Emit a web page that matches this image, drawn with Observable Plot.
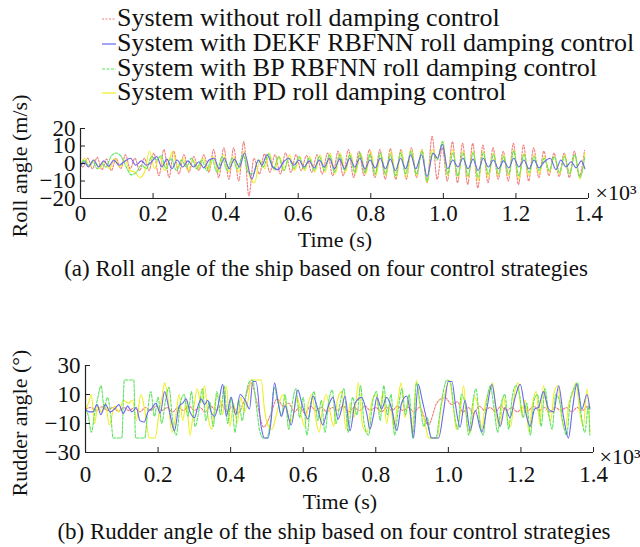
<!DOCTYPE html>
<html><head><meta charset="utf-8">
<script src="https://cdn.jsdelivr.net/npm/d3@7"></script>
<script src="https://cdn.jsdelivr.net/npm/@observablehq/plot@0.6"></script>
<style>
body{margin:0;background:#fff;}
#root{position:relative;width:640px;height:547px;overflow:hidden;font-family:"Liberation Serif","Times New Roman",serif;color:#111;}
.abs{position:absolute;white-space:nowrap;line-height:1;}
.c{transform:translate(-50%,-50%);}
.vert{writing-mode:vertical-rl;transform:translate(-50%,-50%) rotate(180deg);}
</style></head><body><div id="root"></div><script>
// ---- legend / series ----
const SERIES = ["System without roll damping control","System with DEKF RBFNN roll damping control","System with BP RBFNN roll damping control","System with PD roll damping control"];
const COLORS = ["#f27c7c","#6767f0","#5fe35f","#eeee1e"];
const DASHES = ["2,1.5", null, "3,1.5", null];
const xTicks = [0,200,400,600,800,1000,1200,1400];
const yTicksA = [-20,-10,0,10,20];
const yTicksB = [-30,-10,10,30];

// ---- (a) Roll angle: [time s, value] ----
const rollNone = [[0,0],[7,-2],[20,3],[33,-3],[46,3.5],[59,-3.5],[72,2.5],[85,-4],[98,3],[111,-3],[124,5],[137,-3],[150,3],[163,-4],[176,3],[189,-4],[202,6],[216,-7],[230,8],[244,-8],[257,7],[271,-6],[285,5],[299,-5],[312,4],[326,-4],[340,5],[354,-5],[367,8],[381,-8],[395,9],[409,-9],[422,9],[436,-10],[450,12.5],[464,-18.5],[478,3],[493,-6],[507,5.5],[522,-5],[536,5],[551,-6],[565,6],[580,-5],[594,5],[608,-4],[623,4.5],[637,-5],[652,5],[666,-6],[681,6],[695,-7],[710,7],[724,-7],[738,8],[753,-8],[767,7],[782,-7],[796,8],[811,-8],[825,8],[840,-9],[854,8.5],[869,-9],[883,8],[898,-9],[912,9],[926,-8],[941,8],[955,-11],[969,15.5],[983,-9],[997,9],[1011,-10],[1025,12.5],[1039,-11],[1053,11.5],[1067,-12],[1081,11.5],[1095,-14],[1109,10.5],[1123,-11],[1137,9],[1151,-9],[1165,7],[1179,-10],[1193,11.5],[1207,-12],[1221,10.5],[1235,-10],[1249,9],[1263,-8],[1277,7],[1291,-7],[1305,6],[1319,-7.5],[1333,6],[1347,-8],[1361,7],[1375,-7],[1389,7.5]];
const rollDEKF = [[0,-2],[10,1],[22,-2],[36,2],[50,-2],[64,1.5],[78,-1.5],[92,2],[106,-1],[120,1],[138,3],[152,-1],[168,1.5],[182,-1],[196,1],[210,4],[224,-2],[238,2.5],[252,-3],[266,2],[282,-2],[296,1.5],[312,-2],[326,1],[340,-2.5],[354,2],[368,3],[382,-3],[396,3],[410,-3],[424,2.5],[438,-2],[452,6],[472,-9],[490,2],[500,-1],[514,5],[530,-2],[544,-3.5],[560,1],[574,3],[588,-1],[602,2],[616,-2],[630,1.5],[644,-2.5],[658,2],[672,-2],[686,3],[700,-3],[714,2.5],[728,-3],[742,3],[756,-2],[770,3],[784,-3],[798,2],[812,-2.5],[826,3],[840,-3],[854,2.5],[868,-4],[882,3],[896,-3],[910,5],[924,-3],[940,5],[955,-7.5],[972,6],[984,3],[997,11],[1012,-3],[1026,2],[1040,-2],[1054,3],[1068,-3],[1082,2.5],[1096,-4],[1110,3],[1124,-2],[1138,2],[1152,-3],[1166,1.5],[1180,-2.5],[1194,3],[1208,-2],[1222,2],[1236,-3],[1250,2],[1264,-2.5],[1278,1],[1295,3],[1310,-3.5],[1324,2],[1338,-2],[1352,1],[1366,-2.5],[1380,1.5],[1390,-3]];
const rollBP = [[0,-2],[10,2],[22,-1],[34,1],[46,-3],[58,0],[70,-2],[84,4],[98,6],[112,4],[126,-2],[140,-6.5],[154,-5],[168,-1],[182,-3],[196,4],[210,2],[222,4.5],[236,-3],[250,3],[264,-4],[278,2],[292,-2],[306,3],[320,-3],[334,2],[348,-4],[362,3],[376,-5],[390,4],[404,-4],[418,3],[432,-3],[448,5],[462,-5],[476,-6],[490,2],[504,-2],[518,5.5],[532,-3],[546,4],[560,-4],[574,3],[588,-3],[602,4],[616,-3],[630,3],[644,-4],[658,4],[672,-4],[686,5],[700,-5],[714,5],[728,-4],[742,5],[756,-5],[770,6],[784,-5],[798,5],[812,-6],[826,6],[840,-6],[854,5],[868,-7],[882,6],[896,-6],[910,7],[926,-6],[941,7],[955,-10],[970,6],[983,2],[998,12.5],[1012,-6],[1026,6],[1040,-7],[1054,6],[1068,-7],[1082,6],[1096,-8],[1110,6],[1124,-6],[1138,5],[1152,-6],[1166,4],[1180,-6],[1194,7],[1208,-7],[1222,5],[1236,-5],[1250,4],[1264,-4],[1278,3],[1292,-4],[1306,4],[1320,-5],[1334,4],[1348,-6],[1362,5],[1376,-8],[1390,4]];
const rollPD = [[0,-1],[12,3],[24,-2],[38,2],[52,-3],[66,1],[80,-3],[94,3],[108,-2],[122,2],[136,-4],[150,-5],[164,-8],[178,-4],[190,7],[204,-3],[218,4],[232,-4],[246,3],[254,7],[268,-3],[282,3],[296,-4],[310,2],[324,-3],[338,3],[352,-4],[366,4],[380,-5],[394,5],[408,-5],[422,4],[436,-5],[450,7],[466,-7],[480,-11],[494,2],[508,-3],[520,6],[534,-4],[548,4],[562,-4],[576,5],[590,-4],[604,4],[618,-4],[632,4],[646,-5],[660,5],[674,-5],[688,6],[702,-6],[716,6],[730,-5],[744,6],[758,-6],[772,6],[786,-6],[800,7],[814,-7],[828,6],[842,-7],[856,7],[870,-8],[884,7],[898,-8],[912,8],[926,-7],[941,8],[955,-11],[969,8],[983,3],[998,12],[1012,-7],[1026,8],[1040,-8],[1054,7],[1068,-8],[1082,7],[1096,-10],[1110,7],[1124,-8],[1138,6],[1152,-7],[1166,5],[1180,-7],[1194,8],[1208,-9],[1222,6],[1236,-7],[1250,5],[1264,-6],[1278,4],[1292,-5],[1306,4],[1320,-6],[1334,5],[1348,-6],[1362,5],[1376,-9],[1390,6]];

// ---- (b) Rudder angle: [time s, value] ----
const rudNone = [[0,0],[15,1],[30,-1],[45,1.5],[60,-1],[75,1],[90,-1.5],[105,1],[120,-1],[135,1],[150,-2],[165,1],[180,-1],[195,2],[210,-1],[225,1],[240,-2],[255,1],[270,-1],[285,2],[300,-1],[315,1],[330,-2],[345,2],[360,-1],[375,3],[390,-2],[405,2],[420,-3],[435,4],[457,18],[472,5],[491,-12.5],[510,-4],[528,7],[545,2],[560,4],[575,-2],[590,1],[605,-3],[620,2],[635,-1],[650,1],[665,-2],[680,1],[695,-1],[710,2],[725,-2],[740,1],[755,-1],[770,2],[785,-1],[800,1],[815,-2],[830,1],[845,-1],[860,2],[875,-1],[890,1],[905,-2],[920,1],[945,-11],[968,4],[990,8],[1010,3],[1025,5],[1040,-2],[1055,1],[1070,-3],[1085,2],[1100,-1],[1115,1],[1130,-2],[1145,2],[1160,-1],[1175,1],[1190,-2],[1205,1],[1220,-1],[1235,2],[1250,-1],[1265,1],[1280,-2],[1295,1],[1310,-1],[1325,1],[1340,-2],[1355,1],[1370,-1],[1385,2],[1390,1]];
const rudDEKF = [[0,0],[10,-2],[20,-2],[32,3],[42,-4],[55,3],[68,-2],[80,0],[92,3],[104,-3],[116,2],[128,-2],[140,1],[150,-8],[162,-9],[172,-2],[181,0],[194,4],[206,-3],[218,12],[230,0],[245,-15],[258,2],[268,4],[277,7],[288,-2],[300,-6],[310,2],[319,7],[328,3],[337,6],[346,-2],[356,-5],[366,3],[378,17],[388,-5],[401,8],[414,-4],[426,10],[440,6],[452,0],[461,19],[470,19],[484,-12],[493,-20],[503,-20],[512,-7],[521,18],[530,6],[540,-5],[550,2],[567,-11],[585,13],[598,2],[613,-7],[627,9],[640,0],[654,-11],[668,1],[682,8],[696,-7],[706,0],[715,9],[729,-15],[743,4],[761,8],[775,-3],[784,-14],[794,-4],[803,8],[816,0],[830,8],[844,0],[858,-15],[871,4],[885,9],[895,-3],[904,-20],[917,17],[928,6],[941,-8],[954,-20],[973,-20],[987,-1],[1000,19],[1010,19],[1019,4],[1032,-12.5],[1046,6],[1060,-15],[1074,-1],[1092,-16],[1106,0],[1120,17],[1132,0],[1143,-12],[1156,1],[1170,-6],[1184,8],[1198,17],[1212,-1],[1225,-12],[1238,0],[1248,1],[1262,12],[1276,0],[1290,-2],[1304,16],[1317,-5],[1331,-20],[1342,0],[1354,17],[1368,0],[1382,10],[1390,0]];
const rudBP = [[0,0],[8,-5],[16,-16],[26,-2],[34,8],[43,16],[52,0],[60,8],[70,-5],[76,-20],[100,-20],[107,20],[133,20],[138,-20],[163,-20],[172,0],[180,12],[190,-5],[200,8],[210,-10],[220,5],[230,15],[240,-8],[250,-18],[262,5],[272,10],[282,-5],[292,12],[302,-12],[312,-2],[322,14],[332,-8],[342,5],[352,-12],[362,12],[372,-4],[382,16],[392,-10],[402,8],[412,-16],[422,6],[432,-8],[442,10],[450,18],[460,20],[472,0],[480,-15],[490,-20],[500,-20],[510,-8],[520,15],[530,5],[540,-5],[550,10],[560,-14],[570,4],[580,14],[590,-6],[600,8],[610,-18],[620,2],[630,12],[640,-8],[650,6],[660,-16],[670,5],[680,13],[690,-10],[700,2],[712,14],[724,-16],[736,8],[748,-4],[758,16],[768,-10],[780,-18],[792,6],[802,12],[812,-8],[822,16],[832,-4],[842,10],[852,-18],[862,0],[872,14],[882,-4],[892,10],[902,-20],[912,18],[922,4],[932,-12],[942,-6],[952,-20],[966,-20],[976,-4],[986,12],[996,20],[1006,18],[1016,-2],[1026,-14],[1036,10],[1046,4],[1056,-18],[1066,2],[1076,14],[1086,-8],[1096,-18],[1106,6],[1116,16],[1126,0],[1136,-16],[1146,4],[1156,10],[1166,-14],[1176,8],[1186,16],[1196,10],[1206,-6],[1216,4],[1226,-18],[1236,6],[1246,10],[1256,-12],[1266,14],[1276,-2],[1286,-14],[1296,10],[1306,6],[1316,-10],[1326,-18],[1336,6],[1346,14],[1356,18],[1366,-4],[1376,-16],[1386,2],[1390,-18]];
const rudPD = [[0,0],[8,4],[16,10],[25,-10],[34,2],[44,-2],[54,4],[66,-11],[80,2],[92,-2],[104,6],[118,4],[130,6],[140,-8],[153,10],[164,-2],[176,-20],[192,-20],[204,0],[212,10],[218,18],[228,6],[238,-16],[248,-6],[258,10],[268,-8],[278,6],[288,-18],[298,0],[308,14],[318,4],[328,16],[338,-6],[348,-14],[358,6],[368,10],[378,-4],[388,16],[398,-12],[408,4],[418,-10],[428,8],[438,-2],[448,6],[457,20],[484,20],[494,-2],[504,-12],[514,-14],[524,-6],[534,4],[544,10],[554,2],[564,-10],[574,-2],[584,8],[594,-4],[604,-12],[614,4],[624,10],[634,-6],[644,-16],[654,2],[664,10],[674,-2],[684,-12],[694,6],[706,12],[718,-14],[730,4],[740,-6],[752,18],[764,-12],[776,-16],[788,4],[800,10],[810,-2],[820,12],[830,-10],[840,4],[850,-14],[860,4],[870,18],[880,-6],[890,6],[900,-16],[912,20],[922,2],[934,-8],[946,-20],[970,-20],[980,2],[990,10],[1002,20],[1012,6],[1022,-14],[1032,-4],[1042,16],[1052,-12],[1062,-16],[1072,8],[1082,2],[1092,-14],[1102,4],[1112,12],[1122,18],[1132,-4],[1142,-12],[1152,8],[1162,-6],[1172,-12],[1182,10],[1192,18],[1202,-4],[1212,6],[1222,-16],[1232,4],[1242,12],[1252,-10],[1262,16],[1272,0],[1282,-8],[1292,12],[1302,16],[1312,-6],[1322,-14],[1332,4],[1342,10],[1352,18],[1362,-2],[1372,-12],[1382,14],[1390,-16]];

// ---- build ----
const root = document.getElementById("root");
const FONT = '"Liberation Serif","Times New Roman",serif';
function addText(txt, x, y, size, cls){
  const d = document.createElement("div");
  d.className = "abs " + (cls === undefined ? "c" : cls);
  d.style.left = x + "px"; d.style.top = y + "px"; d.style.fontSize = size + "px";
  d.textContent = txt; root.appendChild(d); return d;
}
// legend
const legendY = [19, 44, 69, 93];
SERIES.forEach((name, i) => {
  const s = document.createElementNS("http://www.w3.org/2000/svg","svg");
  s.setAttribute("width", 14); s.setAttribute("height", 4);
  s.style.position = "absolute"; s.style.left = "102px"; s.style.top = (legendY[i]-2) + "px";
  const l = document.createElementNS("http://www.w3.org/2000/svg","line");
  l.setAttribute("x1",0); l.setAttribute("x2",14); l.setAttribute("y1",2); l.setAttribute("y2",2);
  l.setAttribute("stroke", COLORS[i]); l.setAttribute("stroke-width", 1.2);
  if (DASHES[i]) l.setAttribute("stroke-dasharray", DASHES[i]);
  s.appendChild(l); root.appendChild(s);
  const t = addText(name, 117, legendY[i], 26, "");
  t.style.transform = "translateY(-55%)";
});

const fmtX = d => d === 0 ? "0" : (d/1000).toFixed(1);
const fmtY = d => d < 0 ? "\u2212" + Math.abs(d) : String(d);
const order = [0,3,2,1];
function seriesLines(sets){
  return order.map(i => Plot.line(sets[i], {x: d => d[0], y: d => d[1], stroke: COLORS[i], strokeWidth: 1.1,
    strokeDasharray: DASHES[i] || undefined, curve: "monotone-x"}));
}
function panel(sets, opts){
  const {top, height, mt, mb, ml, mr, ydom, yticks, xpad} = opts;
  const pxPerY = (height - mt - mb) / (ydom[1]-ydom[0]);
  const pxPerX = (640 - ml - mr) / 1400;
  const p = Plot.plot({
    width: 640, height, marginTop: mt, marginBottom: mb, marginLeft: ml, marginRight: mr,
    x: {domain: [0, 1400]}, y: {domain: ydom},
    style: {fontFamily: FONT, fontSize: "23px", color: "#111", background: "transparent", overflow: "visible"},
    marks: [
      ...seriesLines(sets),
      Plot.ruleX([0], {stroke: "#222", strokeWidth: 1.2}),
      Plot.ruleY([ydom[0]], {stroke: "#222", strokeWidth: 1.2}),
      Plot.ruleY(yticks, {y: d => d, x1: 0, x2: 5/pxPerX, stroke: "#222"}),
      Plot.ruleX(xTicks, {x: d => d, y1: ydom[0], y2: ydom[0] + 5/pxPerY, stroke: "#222"}),
      Plot.axisX({ticks: xTicks, tickSize: 0, tickPadding: xpad, tickFormat: fmtX, label: null, fontSize: 23}),
      Plot.axisY({ticks: yticks, tickSize: 0, tickPadding: 5, tickFormat: fmtY, label: null, fontSize: 23})
    ]
  });
  p.style.position = "absolute";
  p.style.left = "0px";
  p.style.top = top + "px";
  root.appendChild(p);
}
panel([rollNone, rollDEKF, rollBP, rollPD], {top: 0, height: 260, mt: 128, mb: 62, ml: 80, mr: 52, ydom: [-20, 20], yticks: yTicksA, xpad: 6});
panel([rudNone, rudDEKF, rudBP, rudPD], {top: 280, height: 220, mt: 85, mb: 48, ml: 85, mr: 47, ydom: [-30, 30], yticks: yTicksB, xpad: 13});

addText("Roll angle (m/s)", 20, 166, 22, "vert");
addText("Rudder angle (\u00B0)", 20, 423, 22, "vert");
addText("\u00D710\u00B3", 616, 193, 22);
addText("\u00D710\u00B3", 620, 457, 22);
addText("Time (s)", 335, 240, 22);
addText("Time (s)", 340, 502, 22);
addText("(a) Roll angle of the ship based on four control strategies", 326, 268, 23);
addText("(b) Rudder angle of the ship based on four control strategies", 334, 531, 23);
</script></body></html>
